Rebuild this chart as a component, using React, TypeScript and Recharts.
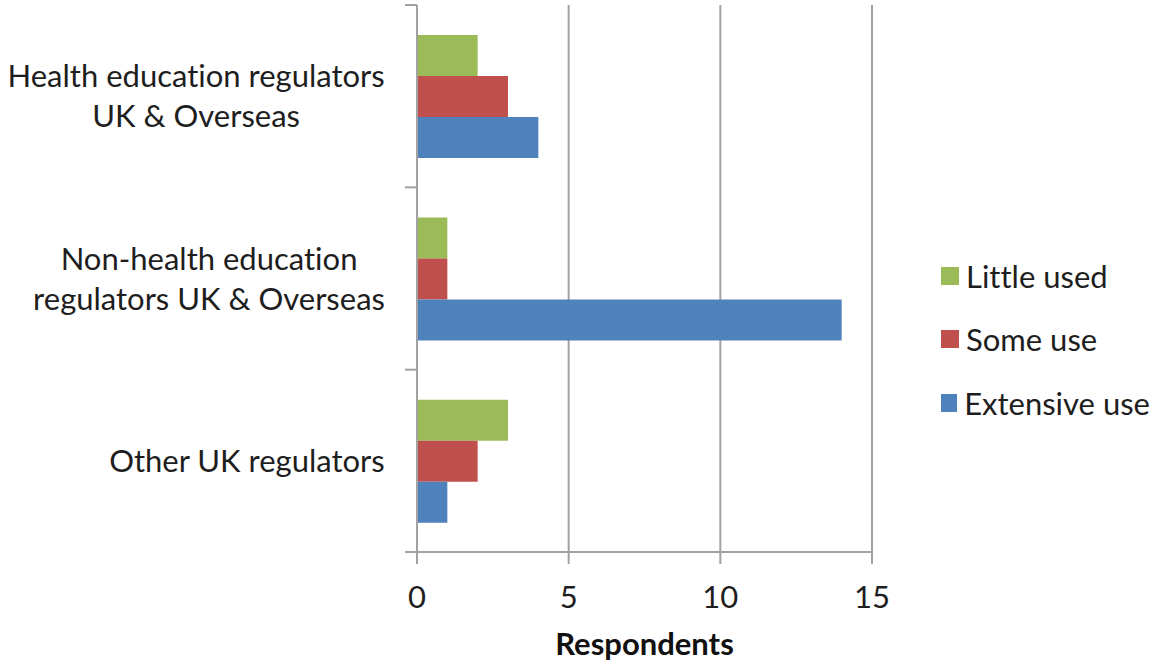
import React from "react";
import { BarChart, Bar, XAxis, YAxis, CartesianGrid, Legend, Label } from "recharts";

// Regulator groups shown on the category axis
const categories = [
  "Health education regulators UK & Overseas",
  "Non-health education regulators UK & Overseas",
  "Other UK regulators",
];

// How each category name is broken over lines on the axis
const categoryLabelLines = [
  ["Health education regulators", "UK & Overseas"],
  ["Non-health education", "regulators UK & Overseas"],
  ["Other UK regulators"],
];

// Number of respondents per usage level
const littleUsed = [2, 1, 3];
const someUse = [3, 1, 2];
const extensiveUse = [4, 14, 1];

// Series names, in legend order
const seriesNames = ["Little used", "Some use", "Extensive use"];

const xTicks = [0, 5, 10, 15];

const data = categories.map((name, i) => ({
  name,
  little: littleUsed[i],
  some: someUse[i],
  extensive: extensiveUse[i],
}));

const FONT = "Lato, 'Open Sans', sans-serif";
const TEXT_COLOR = "#1e1e1e";
const AXIS_COLOR = "#a2a2a2";
const LABEL_SIZE = 31;
const LINE_HEIGHT = 40;
const Y_TICK_SIZE = 12;
const Y_TICK_MARGIN = 20;
const NO_LIGA: React.CSSProperties = { fontVariantLigatures: "none", fontFeatureSettings: '"liga" 0' };

const CHART_W = 1150;
const CHART_H = 665;
const MARGIN = { top: 5, right: 278, bottom: 0, left: 0 };
const Y_AXIS_W = 417;
const X_AXIS_H = 113;

let measureCtx: CanvasRenderingContext2D | null = null;
function textWidth(s: string, font: string): number {
  if (!measureCtx) {
    const c = document.createElement("canvas");
    measureCtx = c.getContext("2d");
  }
  if (!measureCtx) return s.length * LABEL_SIZE * 0.5;
  measureCtx.font = font;
  return measureCtx.measureText(s).width;
}

function CategoryTick(props: any) {
  const { x, y, payload, index } = props;
  const idx = typeof payload?.index === "number" ? payload.index : index;
  const lines = categoryLabelLines[idx] || [String(payload?.value ?? "")];
  const font = `${LABEL_SIZE}px Lato`;
  const maxW = Math.max(...lines.map((l) => textWidth(l, font)));
  const cx = x - maxW / 2;
  const axisX = x + Y_TICK_SIZE + Y_TICK_MARGIN;
  const plotH = CHART_H - MARGIN.top - MARGIN.bottom - X_AXIS_H;
  const half =
    typeof payload?.offset === "number" && payload.offset > 0
      ? payload.offset
      : plotH / categories.length / 2;
  const n = lines.length;
  const isLast = idx === categories.length - 1;
  return (
    <g>
      <text
        textAnchor="middle"
        fill={TEXT_COLOR}
        fontSize={LABEL_SIZE}
        fontFamily={FONT}
        style={NO_LIGA}
      >
        {lines.map((l, i) => (
          <tspan key={i} x={cx} y={y + (i - (n - 1) / 2) * LINE_HEIGHT} dy="0.36em">
            {l}
          </tspan>
        ))}
      </text>
      <line
        x1={axisX - Y_TICK_SIZE}
        x2={axisX}
        y1={y - half}
        y2={y - half}
        stroke={AXIS_COLOR}
        strokeWidth={2}
      />
      {isLast && (
        <line
          x1={axisX - Y_TICK_SIZE}
          x2={axisX}
          y1={y + half}
          y2={y + half}
          stroke={AXIS_COLOR}
          strokeWidth={2}
        />
      )}
    </g>
  );
}

function LegendContent(props: any) {
  const items = [...(props.payload || [])].sort(
    (a: any, b: any) => seriesNames.indexOf(a.value) - seriesNames.indexOf(b.value)
  );
  return (
    <div style={{ fontFamily: FONT, fontSize: LABEL_SIZE, color: TEXT_COLOR, ...NO_LIGA }}>
      {items.map((item: any) => (
        <div
          key={item.value}
          style={{ display: "flex", alignItems: "center", height: 63.5, whiteSpace: "nowrap" }}
        >
          <span
            style={{
              display: "inline-block",
              width: 18,
              height: 18,
              background: item.color,
              marginRight: 7,
            }}
          />
          <span>{item.value}</span>
        </div>
      ))}
    </div>
  );
}

export default function App() {
  return (
    <div
      style={{
        position: "absolute",
        left: 0,
        top: 0,
        width: CHART_W,
        height: CHART_H,
        background: "#fff",
        fontFamily: FONT,
      }}
    >
      <BarChart
        width={CHART_W}
        height={CHART_H}
        data={data}
        layout="vertical"
        margin={MARGIN}
        barCategoryGap="16.5%"
        barGap={0}
      >
        <CartesianGrid horizontal={false} stroke={AXIS_COLOR} strokeWidth={2} />
        <XAxis
          type="number"
          domain={[0, 15]}
          ticks={xTicks}
          interval={0}
          height={X_AXIS_H}
          axisLine={{ stroke: AXIS_COLOR, strokeWidth: 2 }}
          tickLine={{ stroke: AXIS_COLOR, strokeWidth: 2 }}
          tickSize={12}
          tickMargin={22}
          tick={{ fill: TEXT_COLOR, fontSize: LABEL_SIZE, fontFamily: FONT }}
        >
          <Label
            value="Respondents"
            position="insideBottom"
            offset={10}
            style={{ fontWeight: 700, fontSize: 31, fill: "#111", fontFamily: FONT }}
          />
        </XAxis>
        <YAxis
          type="category"
          dataKey="name"
          width={Y_AXIS_W}
          axisLine={{ stroke: AXIS_COLOR, strokeWidth: 2 }}
          tickLine={false}
          tickSize={Y_TICK_SIZE}
          tickMargin={Y_TICK_MARGIN}
          interval={0}
          tick={<CategoryTick />}
        />
        <Legend
          layout="vertical"
          align="center"
          verticalAlign="middle"
          content={<LegendContent />}
          wrapperStyle={{ left: 941, top: 244, width: 209 }}
        />
        <Bar dataKey="little" name={seriesNames[0]} fill="#9bbb59" isAnimationActive={false} />
        <Bar dataKey="some" name={seriesNames[1]} fill="#c0504d" isAnimationActive={false} />
        <Bar dataKey="extensive" name={seriesNames[2]} fill="#4f81bd" isAnimationActive={false} />
      </BarChart>
    </div>
  );
}
